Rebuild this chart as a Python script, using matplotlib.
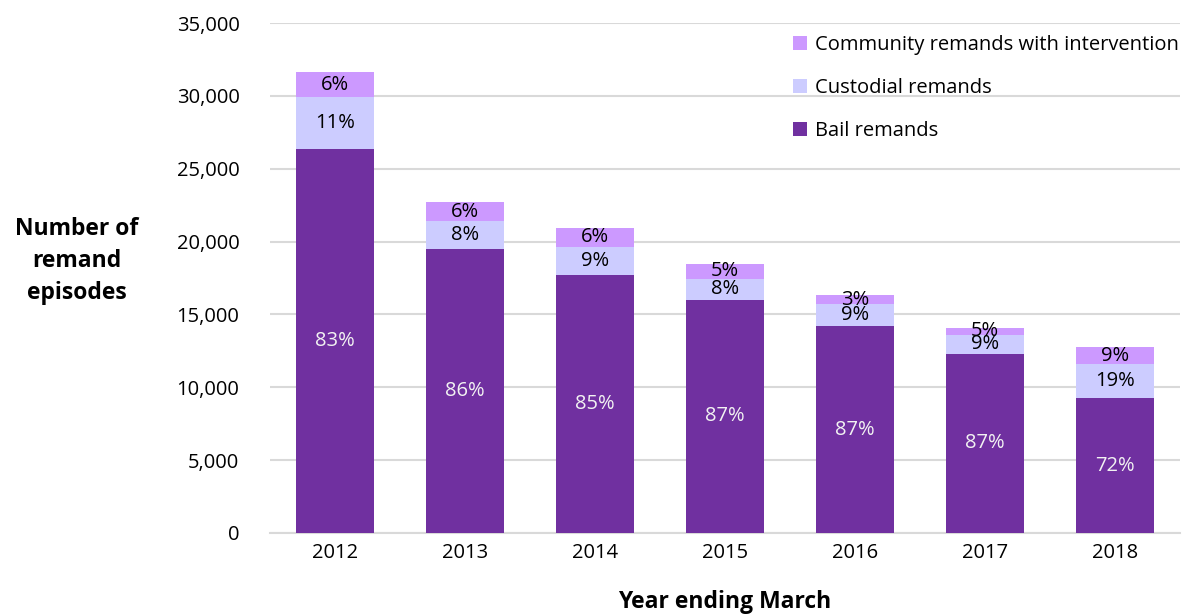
import matplotlib.pyplot as plt
import numpy as np

plt.rcParams['font.family'] = ['Open Sans', 'DejaVu Sans']

# data
years = ['2012', '2013', '2014', '2015', '2016', '2017', '2018']
bail = [26350, 19500, 17700, 16000, 14200, 12300, 9250]
custodial = [3550, 1900, 1950, 1450, 1500, 1300, 2350]
community = [1750, 1300, 1300, 1000, 600, 500, 1150]

bail_pct = ['83%', '86%', '85%', '87%', '87%', '87%', '72%']
custodial_pct = ['11%', '8%', '9%', '8%', '9%', '9%', '19%']
community_pct = ['6%', '6%', '6%', '5%', '3%', '5%', '9%']

c_bail = '#7030A0'
c_cust = '#CCCCFF'
c_comm = '#CC99FF'

fig = plt.figure(figsize=(11.95, 6.14), dpi=100)
ax = fig.add_axes([270 / 1195, 1 - 533 / 614, 910 / 1195, 510 / 614])

x = np.arange(len(years))
bail = np.array(bail)
custodial = np.array(custodial)
community = np.array(community)
w = 0.6

b1 = ax.bar(x, bail, w, color=c_bail, label='Bail remands', zorder=3)
b2 = ax.bar(x, custodial, w, bottom=bail, color=c_cust, label='Custodial remands', zorder=3)
b3 = ax.bar(x, community, w, bottom=bail + custodial, color=c_comm,
            label='Community remands with intervention', zorder=3)

fs = 14.5
for i in range(len(years)):
    ax.text(x[i], bail[i] / 2, bail_pct[i], ha='center', va='center',
            color='#F2F2F2', fontsize=fs, zorder=4)
    ax.text(x[i], bail[i] + custodial[i] / 2, custodial_pct[i], ha='center', va='center',
            color='black', fontsize=fs, zorder=4)
    ax.text(x[i], bail[i] + custodial[i] + community[i] / 2, community_pct[i],
            ha='center', va='center', color='black', fontsize=fs, zorder=4)

ax.set_xlim(-0.5, 6.5)
ax.set_ylim(0, 35000)
ax.set_xticks(x)
ax.set_xticklabels(years)
ax.set_yticks(np.arange(0, 35001, 5000))
ax.yaxis.set_major_formatter(plt.FuncFormatter(lambda v, p: f'{int(v):,}'))
ax.tick_params(axis='both', length=0, labelsize=fs, colors='black')
ax.tick_params(axis='y', pad=22)
ax.tick_params(axis='x', pad=7)
ax.grid(axis='y', color='#D9D9D9', linewidth=1.5, zorder=0)
for s in ['top', 'right', 'left']:
    ax.spines[s].set_visible(False)
ax.spines['bottom'].set_color('#D9D9D9')
ax.spines['bottom'].set_linewidth(1.5)

fig.text(77 / 1195, 1 - 261 / 614, 'Number of\nremand\nepisodes', ha='center', va='center',
         fontsize=16.5, fontweight='bold', linespacing=1.42)
fig.text(725 / 1195, 1 - 602 / 614, 'Year ending March', ha='center', va='center',
         fontsize=16.5, fontweight='bold')

leg = ax.legend(handles=[b3, b2, b1], loc='upper left', bbox_to_anchor=(775 / 1195, 1 - 17 / 614),
                bbox_transform=fig.transFigure, frameon=False, fontsize=14.5,
                handlelength=0.7, handleheight=0.7, handletextpad=0.4, labelspacing=1.15)

fig.savefig('out.png', dpi=100)
